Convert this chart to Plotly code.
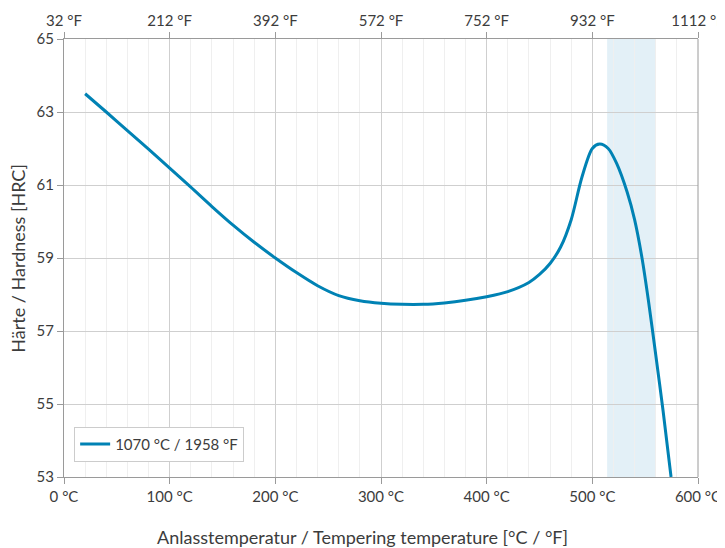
import plotly.graph_objects as go

# Data
temp_c = [20, 40, 60, 80, 100, 120, 140, 160, 180, 200, 220, 240, 260, 280,
          300, 320, 340, 360, 380, 400, 420, 440, 450, 460, 470, 480, 490,
          500, 507, 515, 523, 533, 540, 547, 553, 560, 567, 574.5]
hardness = [63.5, 63.0, 62.49, 61.98, 61.46, 60.94, 60.41, 59.9, 59.43, 59.0,
            58.6, 58.24, 57.97, 57.83, 57.76, 57.73, 57.73, 57.77, 57.84, 57.94,
            58.08, 58.33, 58.55, 58.85, 59.3, 60.05, 61.2, 62.0, 62.12, 62.0,
            61.59, 60.8, 60.05, 59.0, 57.85, 56.35, 54.8, 53.0]
series_name = "1070 °C / 1958 °F"
band = [514, 560]

x_ticks = [0, 100, 200, 300, 400, 500, 600]
x_labels_c = ["0 °C", "100 °C", "200 °C", "300 °C", "400 °C", "500 °C", "600 °C"]
x_labels_f = ["32 °F", "212 °F", "392 °F", "572 °F", "752 °F", "932 °F", "1112 °F"]
y_ticks = [53, 55, 57, 59, 61, 63, 65]

FONT = "Lato"
TXT = "#3c3c3c"
AX = "#9a9a9a"

fig = go.Figure()
fig.add_trace(go.Scatter(
    x=temp_c, y=hardness, mode="lines", name=series_name,
    line=dict(color="#0082b4", width=3, shape="spline", smoothing=0.8),
))
# invisible trace for top axis
fig.add_trace(go.Scatter(x=[0, 600], y=[53, 53], xaxis="x2", mode="lines",
                         line=dict(width=0), showlegend=False, hoverinfo="skip"))

fig.add_vrect(x0=band[0], x1=band[1], fillcolor="#e3f0f7", opacity=1,
              line_width=0, layer="below")

# page body has an 8px margin, so the figure is sized/offset to compensate
fig.update_layout(
    width=717, height=540,
    margin=dict(l=56, r=27, t=31, b=71),
    paper_bgcolor="white", plot_bgcolor="white",
    font=dict(family=FONT, size=15, color=TXT),
    xaxis=dict(range=[0, 600], tickvals=x_ticks, ticktext=x_labels_c,
               showgrid=True, gridcolor="#cfcfcf", gridwidth=1,
               minor=dict(dtick=20, showgrid=True, gridcolor="#efefef", gridwidth=1),
               ticks="outside", ticklen=6, tickcolor=AX, showline=True,
               linecolor=AX, linewidth=1, zeroline=False, automargin=False,
               tickfont=dict(size=15, color=TXT), layer="below traces"),
    xaxis2=dict(range=[0, 600], overlaying="x", side="top", tickvals=x_ticks,
                ticktext=x_labels_f, showgrid=False, ticks="outside", ticklen=6,
                tickcolor=AX, showline=True, linecolor=AX, linewidth=1,
                zeroline=False, automargin=False, tickfont=dict(size=15, color=TXT)),
    yaxis=dict(range=[53, 65], tickvals=y_ticks, showgrid=True, gridcolor="#cfcfcf",
               ticks="outside", ticklen=6, tickcolor=AX, showline=True,
               linecolor=AX, linewidth=1, mirror=False, zeroline=False,
               automargin=False, tickfont=dict(size=15, color=TXT)),
    legend=dict(x=0.016, y=0.035, xanchor="left", yanchor="bottom",
                bgcolor="white", bordercolor="#cccccc", borderwidth=1,
                font=dict(size=15, color=TXT)),
    showlegend=True,
)
# right border line
fig.add_shape(type="line", xref="paper", yref="paper", x0=1, x1=1, y0=0, y1=1,
              line=dict(color=AX, width=1))
fig.add_annotation(text="Anlasstemperatur / Tempering temperature [°C / °F]",
                   xref="paper", yref="paper", x=0.4708, y=-0.137,
                   xanchor="center", yanchor="middle", showarrow=False,
                   font=dict(size=18, color=TXT))
fig.add_annotation(text="Härte / Hardness [HRC]", textangle=-90,
                   xref="paper", yref="paper", x=-0.073, y=0.5,
                   xanchor="center", yanchor="middle", showarrow=False,
                   font=dict(size=18, color=TXT))

fig.write_html("out.html")
